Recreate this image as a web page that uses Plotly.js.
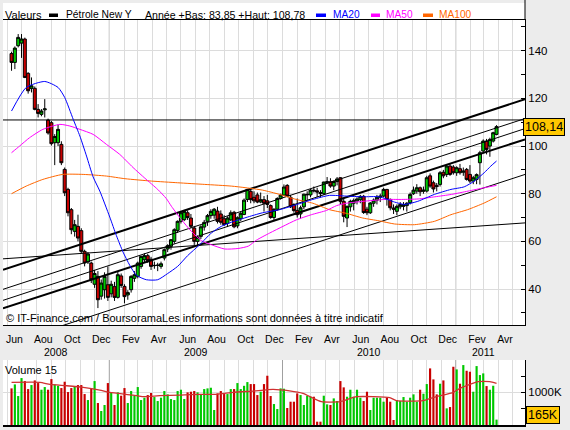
<!DOCTYPE html>
<html><head><meta charset="utf-8">
<script src="https://cdn.plot.ly/plotly-3.0.1.min.js"></script>
<style>html,body{margin:0;padding:0;background:#ececec;}#chart{width:570px;height:430px;}</style>
</head><body><div id="chart"></div>
<script>
// ---------- DATA ----------
const weekDates = [
'2008-06-09','2008-06-16','2008-06-23','2008-06-30','2008-07-07','2008-07-14','2008-07-21','2008-07-28','2008-08-04','2008-08-11',
'2008-08-18','2008-08-25','2008-09-01','2008-09-08','2008-09-15','2008-09-22','2008-09-29','2008-10-06','2008-10-13','2008-10-20',
'2008-10-27','2008-11-03','2008-11-10','2008-11-17','2008-11-24','2008-12-01','2008-12-08','2008-12-15','2008-12-22','2008-12-29',
'2009-01-05','2009-01-12','2009-01-19','2009-01-26','2009-02-02','2009-02-09','2009-02-16','2009-02-23','2009-03-02','2009-03-09',
'2009-03-16','2009-03-23','2009-03-30','2009-04-06','2009-04-13','2009-04-20','2009-04-27','2009-05-04','2009-05-11','2009-05-18',
'2009-05-25','2009-06-01','2009-06-08','2009-06-15','2009-06-22','2009-06-29','2009-07-06','2009-07-13','2009-07-20','2009-07-27',
'2009-08-03','2009-08-10','2009-08-17','2009-08-24','2009-08-31','2009-09-07','2009-09-14','2009-09-21','2009-09-28','2009-10-05',
'2009-10-12','2009-10-19','2009-10-26','2009-11-02','2009-11-09','2009-11-16','2009-11-23','2009-11-30','2009-12-07','2009-12-14',
'2009-12-21','2009-12-28','2010-01-04','2010-01-11','2010-01-18','2010-01-25','2010-02-01','2010-02-08','2010-02-15','2010-02-22',
'2010-03-01','2010-03-08','2010-03-15','2010-03-22','2010-03-29','2010-04-05','2010-04-12','2010-04-19','2010-04-26','2010-05-03',
'2010-05-10','2010-05-17','2010-05-24','2010-05-31','2010-06-07','2010-06-14','2010-06-21','2010-06-28','2010-07-05','2010-07-12',
'2010-07-19','2010-07-26','2010-08-02','2010-08-09','2010-08-16','2010-08-23','2010-08-30','2010-09-06','2010-09-13','2010-09-20',
'2010-09-27','2010-10-04','2010-10-11','2010-10-18','2010-10-25','2010-11-01','2010-11-08','2010-11-15','2010-11-22','2010-11-29',
'2010-12-06','2010-12-13','2010-12-20','2010-12-27','2011-01-03','2011-01-10','2011-01-17','2011-01-24','2011-01-31','2011-02-07',
'2011-02-14','2011-02-21','2011-02-28','2011-03-07','2011-03-14','2011-03-21','2011-03-28'];

const openP = [
138.8,135.1,142.1,143.2,144.9,130.5,124.2,124.2,115.4,113.3,
115.2,110.9,109.8,101.4,101.4,100.7,90.2,81.8,73.3,64.2,
66.3,64.5,55.8,51.3,50.9,42.0,45.3,37.0,39.7,41.8,
38.0,41.0,36.5,45.5,41.1,37.5,39.7,44.5,45.3,49.5,
52.3,54.0,52.5,49.8,49.9,49.5,53.0,56.8,57.9,60.0,
64.6,68.4,69.1,72.0,69.8,65.6,60.0,62.1,66.0,68.4,
70.8,71.0,72.7,71.5,69.5,67.5,69.0,72.2,66.5,69.5,
71.3,77.6,81.0,78.5,79.5,76.5,77.5,77.0,75.0,70.0,
73.5,78.0,79.4,83.5,78.5,75.4,73.0,71.5,74.5,79.5,
79.5,81.5,81.2,80.5,80.0,84.8,85.0,83.2,85.1,86.7,
76.8,69.8,74.5,76.0,77.0,77.5,78.9,73.5,72.0,76.0,
77.3,78.5,79.0,81.8,77.6,74.0,72.6,74.5,74.7,75.0,
76.2,80.0,81.1,82.5,81.0,81.1,87.5,84.6,83.5,83.9,
89.0,88.1,91.6,91.2,88.8,90.5,89.0,90.2,88.1,85.3,
86.0,93.0,97.9,102.1,100.0,102.1,104.9];

const highP = [
139.6,141.8,147.0,147.0,145.5,131.0,128.8,125.0,117.6,115.5,
119.7,111.5,110.5,105.0,109.0,102.0,91.0,82.5,74.0,69.0,
71.2,65.5,56.5,55.5,51.5,48.0,47.5,44.0,47.0,49.5,
43.5,43.0,47.5,46.5,42.0,39.5,45.8,47.5,51.5,54.0,
55.0,54.8,53.5,51.5,51.0,51.5,57.0,58.8,61.0,65.5,
68.8,72.5,73.2,73.0,71.5,66.5,62.5,66.8,69.0,71.5,
73.5,74.0,74.5,73.0,71.0,70.5,73.0,72.8,70.5,72.5,
78.0,82.0,82.2,81.0,80.5,80.5,79.0,79.5,75.5,74.0,
78.5,80.0,83.9,84.0,79.5,76.0,78.0,75.0,80.0,81.0,
82.0,83.0,82.5,81.5,85.0,87.0,86.5,85.5,87.0,87.0,
78.0,75.0,77.5,78.0,78.5,79.5,79.5,74.5,76.5,78.0,
79.5,80.0,82.5,82.0,78.0,75.5,75.5,76.5,76.5,76.5,
80.5,83.0,84.0,83.0,83.0,87.5,88.5,85.5,84.5,89.5,
90.0,92.0,92.5,92.0,91.5,92.5,91.0,90.8,92.0,87.5,
88.5,98.0,102.8,103.0,103.5,106.0,108.78];

const lowP = [
131.6,132.3,141.4,137.0,128.5,122.0,122.5,115.0,112.0,112.5,
112.0,104.8,100.2,92.0,100.0,92.0,79.0,70.5,63.0,62.0,
60.0,55.0,49.5,50.5,42.5,40.5,32.0,35.5,36.0,35.0,
36.5,35.0,36.0,40.5,34.0,35.5,38.5,43.0,44.5,48.5,
51.0,51.0,48.0,48.5,47.5,48.5,52.0,55.5,56.5,59.0,
63.5,67.5,68.5,69.0,65.5,58.5,58.5,61.0,64.5,66.5,
69.5,69.5,67.5,67.0,66.5,66.0,68.5,65.5,65.5,68.5,
71.0,76.5,76.0,76.0,76.0,76.0,72.5,74.0,69.5,68.5,
73.0,77.5,79.0,78.5,74.0,72.0,70.0,69.5,73.5,77.0,
78.5,80.5,78.5,78.5,79.5,84.0,82.5,81.5,83.5,75.5,
68.0,66.0,72.5,73.0,75.5,76.0,71.5,71.0,71.5,74.5,
75.5,76.5,78.5,75.0,73.0,71.5,71.0,73.5,73.0,72.5,
75.5,79.5,80.0,79.0,80.0,80.5,82.5,80.5,81.0,83.0,
86.5,87.0,87.5,88.0,87.5,88.0,87.5,85.5,84.5,84.0,
84.0,83.85,97.0,96.5,95.5,101.5,104.5];

const closeP = [
135.1,141.1,145.6,144.9,128.8,123.2,125.3,115.4,113.7,114.7,
115.6,105.5,101.0,104.0,107.0,93.0,80.4,72.0,64.9,67.0,
61.4,55.8,50.9,54.7,43.9,46.5,35.5,42.5,45.3,36.5,
42.0,36.5,46.0,41.5,36.8,38.5,45.3,46.0,50.9,53.7,
54.0,51.9,49.5,49.9,50.0,50.6,56.5,58.2,60.7,64.9,
68.4,72.0,72.6,70.0,66.3,60.0,61.7,66.1,68.0,70.8,
72.6,73.5,68.4,68.0,67.0,69.8,72.0,66.1,69.9,71.8,
77.3,81.8,77.5,77.0,76.5,77.5,76.0,75.5,70.0,73.4,
78.0,79.4,82.8,79.0,74.5,72.9,71.2,74.1,79.8,79.7,
81.5,81.2,80.7,80.0,84.9,85.0,83.2,85.1,86.2,76.8,
70.5,74.7,76.8,77.2,77.8,78.9,72.1,72.0,76.1,77.3,
78.5,79.0,81.8,77.6,74.1,73.5,74.7,75.5,75.4,76.0,
79.7,81.5,82.5,80.8,81.5,86.7,83.2,82.0,83.0,88.8,
87.5,91.6,88.1,88.8,90.9,88.8,89.5,86.0,85.3,86.7,
88.0,97.2,102.1,98.6,102.8,105.6,108.14];

// weekly volume, thousands of contracts
const volumeK = [
1121,1243,887,1437,1345,1100,1223,1365,1284,1080,
1162,1080,1406,1243,1202,1131,1325,1009,1131,1172,
1223,1223,948,764,1121,1345,673,428,612,1284,
999,612,999,897,1131,673,1040,897,1162,764,
836,917,979,856,734,836,1040,938,795,764,
1040,1080,795,999,1019,1040,999,938,1100,1121,
1141,459,968,1040,948,948,1100,1100,1284,1100,
1200,1314,1253,1253,917,1019,1253,1508,887,642,
489,1121,1111,520,
713,713,968,917,612,897,866,866,102,102,
897,632,612,815,734,1345,1152,866,1080,866,
1080,836,734,1019,459,836,836,836,713,836,
713,153,764,734,856,713,836,938,713,1080,
958,1253,1733,1396,938,1264,1365,510,550,1783,
1702,1264,1835,1661,1631,1019,1804,1529,1580,1192,
1080,1202,165];

// moving averages
const ma20Dates = ['2008-06-09','2008-07-10','2008-08-18','2008-09-15','2008-09-29','2008-10-17','2008-10-31','2008-11-14','2008-11-28','2008-12-12',
'2009-01-02','2009-01-16','2009-01-30','2009-02-13','2009-02-27','2009-03-20','2009-04-13','2009-05-04','2009-05-25','2009-06-15',
'2009-07-10','2009-08-04','2009-08-25','2009-09-15','2009-10-16','2009-11-20','2009-12-26','2010-01-30','2010-03-06','2010-04-10',
'2010-05-15','2010-06-19','2010-07-24','2010-08-25','2010-09-15','2010-10-13','2010-11-17','2010-12-22','2011-01-19','2011-02-09',
'2011-03-02','2011-03-16','2011-03-28'];
const ma20Vals = [114.7,124.6,127.1,124.6,120.4,111.2,104.2,95.8,87.0,81.1,
70.2,62.4,55.5,50.0,45.8,43.9,43.9,46.5,49.5,54.0,
58.5,63.5,66.3,68.0,70.0,72.0,73.3,75.4,77.6,79.3,
79.0,78.7,78.7,76.5,75.5,76.8,79.7,81.8,82.9,85.3,
88.8,91.6,93.7];

const ma50Dates = ['2008-06-09','2008-06-26','2008-07-17','2008-08-14','2008-09-19','2008-10-10','2008-10-31','2008-11-28','2008-12-26','2009-01-23',
'2009-02-20','2009-03-17','2009-04-13','2009-05-01','2009-05-12','2009-06-02','2009-06-23','2009-07-14','2009-08-04','2009-09-01',
'2009-09-29','2009-10-21','2009-11-07','2009-12-05','2010-01-02','2010-01-30','2010-03-03','2010-04-04','2010-04-25','2010-05-16',
'2010-06-20','2010-08-05','2010-09-09','2010-10-14','2010-11-18','2010-12-23','2011-01-27','2011-03-02','2011-03-28'];
const ma50Vals = [97.2,100.0,103.5,107.0,109.1,108.4,107.0,104.9,100.7,96.5,
91.0,86.5,81.8,78.0,74.7,69.1,64.2,60.3,58.6,56.8,
57.0,58.0,60.5,63.5,66.3,69.0,71.2,73.0,75.0,76.0,
76.8,77.6,77.6,77.8,78.7,79.7,81.1,82.5,83.5];

const ma100Dates = ['2008-06-09','2008-07-10','2008-08-14','2008-09-25','2008-11-07','2008-12-26','2009-02-03','2009-03-31','2009-05-25','2009-07-21',
'2009-09-15','2009-10-16','2009-11-20','2009-12-26','2010-01-30','2010-03-06','2010-04-10','2010-05-15','2010-06-19','2010-07-24',
'2010-08-25','2010-10-06','2010-11-17','2010-12-22','2011-01-26','2011-03-02','2011-03-28'];
const ma100Vals = [80.0,83.2,86.0,88.1,88.1,87.4,86.3,85.3,84.6,83.9,
83.2,82.5,81.5,79.7,77.6,76.0,73.3,71.8,69.8,68.6,
67.3,67.0,68.4,71.2,73.3,76.1,78.7];

const volMaDates = ['2008-06-09','2008-08-08','2008-08-29','2008-10-03','2008-11-07','2008-12-12','2009-01-02','2009-02-20','2009-03-13','2009-04-17',
'2009-05-30','2009-07-11','2009-08-15','2009-09-19','2009-10-31','2009-12-12','2010-01-16','2010-02-13','2010-03-24','2010-05-02',
'2010-06-06','2010-08-15','2010-08-29','2010-10-24','2010-11-21','2010-12-27','2011-01-10','2011-01-31','2011-02-17','2011-03-14','2011-03-28'];
const volMaVals = [1305,1305,1243,1202,1152,1070,999,917,866,897,
917,938,938,999,1040,1090,1045,968,713,713,
866,836,744,744,866,999,1121,1243,1325,1325,1274];

// trend lines (value at left edge -> value at right edge)
const trendDates = ['2008-05-22','2011-05-27'];
const trendStart = [48.08, 39.87, 35.24, 31.87, 16.5, 52.67, 110.95];
const trendEnd   = [119.66, 111.54, 107.33, 102.82, 88.08, 67.75, 110.95];

const monthTickDates = ['2008-06-15','2008-08-15','2008-10-15','2008-12-15','2009-02-15','2009-04-15','2009-06-15','2009-08-15','2009-10-15',
'2009-12-15','2010-02-15','2010-04-15','2010-06-15','2010-08-15','2010-10-15','2010-12-15','2011-02-15','2011-04-15'];
const monthTickLabels = ['Jun','Aou','Oct','Dec','Fev','Avr','Jun','Aou','Oct','Dec','Fev','Avr','Jun','Aou','Oct','Dec','Fev','Avr'];
const yearLabelDates = ['2008-09-11','2009-07-03','2010-07-02','2011-03-01'];
const yearLabels = ['2008','2009','2010','2011'];
const yearStarts = ['2009-01-01','2010-01-01','2011-01-01'];
const priceTicks = [40,60,80,100,120,140];

const instrument = 'Pétrole New Y';
const yearLow = 83.85, yearHigh = 108.78;
const lastPrice = closeP[closeP.length-1];
const lastVolume = volumeK[volumeK.length-1];

// ---------- DRAWING ----------
const FONT = 'Liberation Sans, Arial, sans-serif';
const GREEN = '#00c800', RED = '#c80000';
const PL = 3, PR = 525, PT = 20, PB = 425;
const px = x => (x - PL) / (PR - PL);
const py = y => (PB - y) / (PB - PT);
const fr = v => v.toFixed(2).replace('.', ',');

const traces = [];
const trendWidths = [2, 1, 1, 2, 1, 1, 1];
trendStart.forEach((v, i) => {
  traces.push({type:'scatter', mode:'lines', x: trendDates, y:[v, trendEnd[i]],
    line:{color:'#000', width: trendWidths[i]}, xaxis:'x', yaxis:'y', hoverinfo:'skip'});
});
traces.push({type:'scatter', mode:'lines', x: ma100Dates, y: ma100Vals, line:{color:'#ff6600', width:1, shape:'spline', smoothing:0.6}, xaxis:'x', yaxis:'y'});
traces.push({type:'scatter', mode:'lines', x: ma50Dates, y: ma50Vals, line:{color:'#ff00ff', width:1, shape:'spline', smoothing:0.6}, xaxis:'x', yaxis:'y'});
traces.push({type:'scatter', mode:'lines', x: ma20Dates, y: ma20Vals, line:{color:'#0000ff', width:1, shape:'spline', smoothing:0.6}, xaxis:'x', yaxis:'y'});
traces.push({type:'candlestick', x: weekDates, open: openP, high: highP, low: lowP, close: closeP,
  increasing:{line:{color:'#000', width:1}, fillcolor: GREEN},
  decreasing:{line:{color:'#000', width:1}, fillcolor: RED},
  whiskerwidth:0, xaxis:'x', yaxis:'y'});
traces.push({type:'bar', x: weekDates, y: volumeK,
  marker:{color: closeP.map((c,i) => c >= openP[i] ? GREEN : RED), line:{width:0}},
  xaxis:'x2', yaxis:'y2'});
traces.push({type:'scatter', mode:'lines', x: volMaDates, y: volMaVals, line:{color:'#d03030', width:1.3, shape:'spline', smoothing:0.5}, xaxis:'x2', yaxis:'y2'});

const shapes = [];
shapes.push({type:'rect', xref:'paper', yref:'paper', x0:0, x1:1, y0:1, y1:py(3), fillcolor:'#fff', line:{width:0}, layer:'below'});
shapes.push({type:'line', xref:'paper', yref:'paper', x0:1, x1:1, y0:1, y1:py(0), line:{color:'#000', width:1}});
yearStarts.forEach(d => {
  shapes.push({type:'line', xref:'x', yref:'y domain', x0:d, x1:d, y0:0, y1:1, line:{color:'#a0a0a0', width:1}, layer:'below'});
  shapes.push({type:'line', xref:'x2', yref:'y2 domain', x0:d, x1:d, y0:0, y1:1, line:{color:'#a0a0a0', width:1}, layer:'below'});
});
const sw = [[49,58,'#000'],[316,326,'#0000ff'],[371,380,'#ff00ff'],[423,433,'#ff6600']];
sw.forEach(s => shapes.push({type:'rect', xref:'paper', yref:'paper', x0:px(s[0]), x1:px(s[1]), y0:py(17), y1:py(13.5), fillcolor:s[2], line:{width:0}}));

const ann = [];
const hdr = (x, text, size, color) => ann.push({xref:'paper', yref:'paper', x:px(x), y:py(15), xanchor:'left', yanchor:'middle', text, showarrow:false, font:{family:FONT, size, color: color || '#000'}});
hdr(3, 'Valeurs', 11);
hdr(64, instrument, 10.3);
hdr(143, 'Année +Bas: ' + fr(yearLow) + ' +Haut: ' + fr(yearHigh), 10.6);
hdr(331, 'MA20', 10.2, '#0000ff');
hdr(384, 'MA50', 10.2, '#ff00ff');
hdr(437, 'MA100', 10.2, '#ff6600');
ann.push({xref:'paper', yref:'paper', x:px(4), y:py(318), xanchor:'left', yanchor:'middle', showarrow:false,
  text:'© IT-Finance.com / BoursoramaLes informations sont données à titre indicatif', font:{family:FONT, size:11, color:'#000'}});
ann.push({xref:'paper', yref:'paper', x:px(3), y:py(370), xanchor:'left', yanchor:'middle', showarrow:false,
  text:'Volume 15', font:{family:FONT, size:11, color:'#000'}});
yearLabelDates.forEach((d,i) => ann.push({xref:'x', yref:'paper', x:d, y:py(352), xanchor:'center', yanchor:'middle', showarrow:false,
  text: yearLabels[i], font:{family:FONT, size:10.5, color:'#000'}}));
ann.push({xref:'paper', yref:'y', x:1, y:lastPrice, xanchor:'left', yanchor:'middle', xshift:-2, showarrow:false,
  text: fr(lastPrice), bgcolor:'#ffc800', bordercolor:'#000', borderwidth:1, borderpad:1, font:{family:FONT, size:12.5, color:'#000'}});
ann.push({xref:'paper', yref:'y2', x:1, y:300, xanchor:'left', yanchor:'middle', xshift:1, showarrow:false,
  text: lastVolume + 'K', bgcolor:'#ffc800', bordercolor:'#000', borderwidth:1, borderpad:1, font:{family:FONT, size:12.5, color:'#000'}});

const monthGrid = {dtick:'M1', tick0:'2008-06-01', showgrid:true, gridcolor:'#dcdcdc', gridwidth:1, ticks:''};
const layout = {
  width:570, height:430, margin:{l:PL, r:570-PR, t:PT, b:430-PB, pad:0},
  paper_bgcolor:'#ececec', plot_bgcolor:'#ffffff', showlegend:false,
  font:{family:FONT, size:11, color:'#000'},
  boxgap:0.0, boxgroupgap:0.1, bargap:0.35,
  xaxis:{type:'date', range:[trendDates[0], trendDates[1]], anchor:'y', domain:[0,1],
    rangeslider:{visible:false}, showgrid:false, tickmode:'array', tickvals:monthTickDates, ticktext:monthTickLabels,
    ticks:'', ticklabelstandoff:4, tickfont:{family:FONT, size:10.5, color:'#000'},
    showline:true, linecolor:'#000', linewidth:1, mirror:true, zeroline:false, minor:monthGrid, fixedrange:true},
  yaxis:{domain:[py(325), 1], side:'right', range:[24.9, 152.9], tickmode:'array', tickvals:priceTicks,
    showgrid:true, gridcolor:'#dcdcdc', showline:true, linecolor:'#000', ticks:'', zeroline:false,
    minor:{ticks:'inside', dtick:10, tick0:0, ticklen:4, tickcolor:'#000', showgrid:false},
    tickfont:{family:FONT, size:11.5, color:'#000'}, fixedrange:true},
  xaxis2:{type:'date', matches:'x', anchor:'y2', domain:[0,1], showticklabels:false, showgrid:false, ticks:'',
    showline:true, linecolor:'#000', linewidth:2, zeroline:false, minor:monthGrid, rangeslider:{visible:false}},
  yaxis2:{domain:[0, py(360)], side:'right', range:[0, 1990], tickmode:'array', tickvals:[1000], ticktext:['1000K'],
    showgrid:true, gridcolor:'#dcdcdc', showline:true, linecolor:'#000', ticks:'inside', ticklen:4, tickcolor:'#000', zeroline:false,
    minor:{ticks:'inside', dtick:500, tick0:0, ticklen:4, tickcolor:'#000', showgrid:false},
    tickfont:{family:FONT, size:11.5, color:'#000'}},
  shapes, annotations: ann
};
Plotly.newPlot('chart', traces, layout, {staticPlot:true, displayModeBar:false});
</script></body></html>
